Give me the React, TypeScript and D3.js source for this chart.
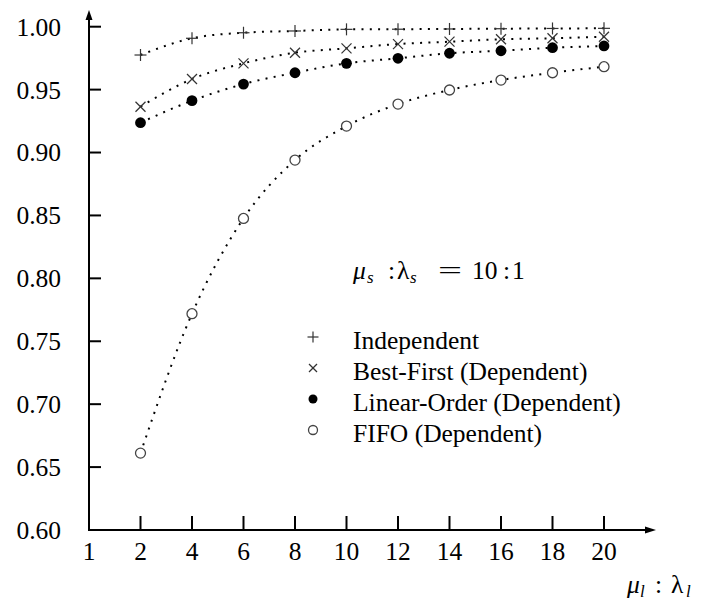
import React from "react";
import * as d3 from "d3";

const xLabels = ["1", "2", "4", "6", "8", "10", "12", "14", "16", "18", "20"];
const xData = ["2", "4", "6", "8", "10", "12", "14", "16", "18", "20"];
const yTicks = [0.6, 0.65, 0.7, 0.75, 0.8, 0.85, 0.9, 0.95, 1.0];

const independent = [0.9775, 0.9908, 0.9952, 0.9966, 0.9979, 0.998, 0.9982, 0.9984, 0.9986, 0.9987];
const bestFirst = [0.9364, 0.9584, 0.9709, 0.9793, 0.9828, 0.9862, 0.9881, 0.99, 0.9908, 0.992];
const linearOrder = [0.9237, 0.9412, 0.9544, 0.9634, 0.9709, 0.9749, 0.9789, 0.9809, 0.9833, 0.9847];
const fifo = [0.6611, 0.7719, 0.8476, 0.894, 0.921, 0.9385, 0.9497, 0.9576, 0.9634, 0.9682];

const seriesNames = ["Independent", "Best-First (Dependent)", "Linear-Order (Dependent)", "FIFO (Dependent)"];
const seriesValues = [independent, bestFirst, linearOrder, fifo];
const markerKinds = ["plus", "cross", "dot", "circle"];

const FONT = "'Liberation Serif', 'Times New Roman', serif";

function Marker({ kind, x, y, legend }: { kind: string; x: number; y: number; legend?: boolean }) {
  if (kind === "plus") {
    const h = legend ? 5.5 : 6;
    return (
      <g stroke="#333" strokeWidth={1.2}>
        <line x1={x - h} x2={x + h} y1={y} y2={y} />
        <line x1={x} x2={x} y1={y - h} y2={y + h} />
      </g>
    );
  }
  if (kind === "cross") {
    const h = legend ? 4 : 5;
    return (
      <g stroke="#333" strokeWidth={1.2}>
        <line x1={x - h} x2={x + h} y1={y - h} y2={y + h} />
        <line x1={x - h} x2={x + h} y1={y + h} y2={y - h} />
      </g>
    );
  }
  if (kind === "dot") {
    return <circle cx={x} cy={y} r={legend ? 4.5 : 5.4} fill="#000" />;
  }
  return <circle cx={x} cy={y} r={legend ? 4.5 : 5} fill="#fff" stroke="#444" strokeWidth={1.3} />;
}

export default function App() {
  const W = 712;
  const H = 603;
  const x = d3.scalePoint<string>().domain(xLabels).range([89, 604]);
  const y = d3.scaleLinear().domain([0.6, 1.0]).range([530, 26.7]);
  const x0 = x("1") as number;
  const y0 = y(0.6);

  const line = d3
    .line<number>()
    .x((_, i) => x(xData[i]) as number)
    .y((d) => y(d))
    .curve(d3.curveMonotoneX);

  const legendX = 313;
  const legendTextX = 353;
  const legendY0 = 337;
  const legendStep = 31;
  const FS = 25.5;
  const SUB = 17;

  return (
    <svg
      width={W}
      height={H}
      style={{ position: "absolute", left: 0, top: 0, background: "#fff" }}
      fontFamily={FONT}
    >
      <rect width={W} height={H} fill="#fff" />
      {/* axes */}
      <line x1={x0} x2={x0} y1={y0 + 1} y2={18} stroke="#000" strokeWidth={2} />
      <path d={`M${x0},10 L${x0 - 3.5},20 L${x0 + 3.5},20 Z`} fill="#000" />
      <line x1={x0 - 1} x2={647} y1={y0} y2={y0} stroke="#000" strokeWidth={2} />
      <path d={`M656,${y0} L645,${y0 - 3.5} L645,${y0 + 3.5} Z`} fill="#000" />

      {yTicks.map((t) => (
        <g key={t}>
          {t > 0.6 && <line x1={x0} x2={x0 + 12} y1={y(t)} y2={y(t)} stroke="#000" strokeWidth={2} />}
          <text x={61} y={y(t)} dy="0.35em" textAnchor="end" fontSize={FS} fill="#000">
            {t.toFixed(2)}
          </text>
        </g>
      ))}
      {xLabels.map((l) => (
        <g key={l}>
          {l !== "1" && (
            <line x1={x(l)} x2={x(l)} y1={y0} y2={y0 - 14} stroke="#000" strokeWidth={2} />
          )}
          <text x={x(l)} y={560} textAnchor="middle" fontSize={FS} fill="#000">
            {l}
          </text>
        </g>
      ))}

      {/* axis label */}
      <g fontSize={FS} fill="#000">
        <text x={627} y={593} fontStyle="italic">μ</text>
        <text x={640} y={597} fontStyle="italic" fontSize={SUB}>l</text>
        <text x={655} y={593}>:</text>
        <text x={671} y={593}>λ</text>
        <text x={686} y={597} fontStyle="italic" fontSize={SUB}>l</text>
      </g>

      {/* series lines */}
      {seriesValues.map((vals, si) => (
        <path
          key={"l" + si}
          d={line(vals) || ""}
          fill="none"
          stroke="#000"
          strokeWidth={2}
          strokeDasharray="2 6.3"
        />
      ))}
      {seriesValues.map((vals, si) =>
        vals.map((v, i) => (
          <Marker key={`m${si}-${i}`} kind={markerKinds[si]} x={x(xData[i]) as number} y={y(v)} />
        ))
      )}

      {/* annotation */}
      <g fontSize={FS} fill="#000">
        <text x={353} y={279} fontStyle="italic">μ</text>
        <text x={367} y={283} fontStyle="italic" fontSize={SUB}>s</text>
        <text x={388} y={279}>:</text>
        <text x={397} y={279}>λ</text>
        <text x={410} y={283} fontStyle="italic" fontSize={SUB}>s</text>
        <text x={438} y={279} textLength={24} lengthAdjust="spacingAndGlyphs">=</text>
        <text x={472} y={279}>10</text>
        <text x={503} y={279}>:</text>
        <text x={512} y={279}>1</text>
      </g>

      {/* legend */}
      {seriesNames.map((n, i) => (
        <g key={n}>
          <Marker kind={markerKinds[i]} x={legendX} y={legendY0 + i * legendStep} legend />
          <text x={legendTextX} y={legendY0 + i * legendStep + 4} dy="0.3em" fontSize={FS} fill="#000">
            {n}
          </text>
        </g>
      ))}
    </svg>
  );
}
